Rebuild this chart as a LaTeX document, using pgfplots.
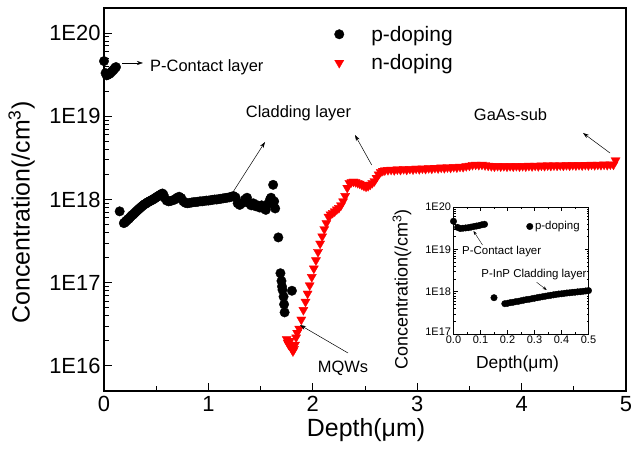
\documentclass[border=0pt]{standalone}
\usepackage{pgfplots}
\pgfplotsset{compat=1.18}
\usepackage{pgfplotstable}
\usepackage{fontspec}
\setmainfont{Liberation Sans}
\usetikzlibrary{arrows.meta}
\pgfplotsset{mylegimg/.style={legend image code/.code={\draw[##1] plot coordinates {(0bp,0bp)}; \path[draw=none,fill=none] (-5bp,0bp) (30bp,0bp);}}}

\pgfplotstableread{
x y
0.000 4.6e19
0.015 3.3e19
0.025 3.1e19
0.035 3.15e19
0.045 3.2e19
0.055 3.25e19
0.065 3.35e19
0.075 3.45e19
0.085 3.55e19
0.095 3.65e19
0.105 3.8e19
0.115 3.9e19
0.150 7.2e17
0.190 5.2e17
0.200 5.3e17
0.210 5.5e17
0.220 5.6e17
0.230 5.8e17
0.240 5.9e17
0.250 6.1e17
0.260 6.3e17
0.270 6.5e17
0.280 6.6e17
0.290 6.8e17
0.300 7.0e17
0.310 7.2e17
0.320 7.4e17
0.330 7.6e17
0.340 7.8e17
0.350 8.0e17
0.360 8.2e17
0.370 8.4e17
0.380 8.6e17
0.390 8.8e17
0.400 8.9e17
0.410 9.1e17
0.420 9.3e17
0.430 9.4e17
0.440 9.6e17
0.450 9.7e17
0.460 9.9e17
0.470 1.0e18
0.480 1.02e18
0.490 1.04e18
0.500 1.06e18
0.510 1.08e18
0.520 1.10e18
0.530 1.12e18
0.540 1.14e18
0.550 1.16e18
0.560 1.18e18
0.570 1.14e18
0.580 1.05e18
0.600 9.7e17
0.620 9.5e17
0.640 9.6e17
0.660 9.8e17
0.680 1.0e18
0.700 1.05e18
0.720 1.08e18
0.740 1.04e18
0.760 9.5e17
0.780 9.1e17
0.800 9.0e17
0.820 9.1e17
0.840 9.2e17
0.860 9.3e17
0.880 9.3e17
0.900 9.4e17
0.920 9.5e17
0.940 9.5e17
0.960 9.6e17
0.980 9.7e17
1.000 9.7e17
1.020 9.8e17
1.040 9.9e17
1.060 1.0e18
1.080 1.0e18
1.100 1.01e18
1.120 1.02e18
1.140 1.03e18
1.160 1.04e18
1.180 1.05e18
1.200 1.06e18
1.220 1.08e18
1.240 1.10e18
1.260 1.06e18
1.280 9.0e17
1.300 8.6e17
1.320 9.0e17
1.350 1.0e18
1.370 1.05e18
1.390 9.0e17
1.410 8.5e17
1.430 9.0e17
1.450 8.3e17
1.470 8.5e17
1.490 8.0e17
1.510 8.5e17
1.530 7.8e17
1.550 7.5e17
1.570 8.8e17
1.590 1.0e18
1.600 1.05e18
1.620 1.5e18
1.630 9.5e17
1.640 7.8e17
1.670 3.5e17
1.690 1.3e17
1.700 1.05e17
1.705 9.0e16
1.710 8.2e16
1.720 6.8e16
1.725 5.5e16
1.730 4.4e16
1.800 8.0e16
}\pdata

\pgfplotstableread{
x y
1.75 2.1e16
1.76 1.9e16
1.77 1.8e16
1.78 2.0e16
1.79 1.7e16
1.80 1.6e16
1.81 1.5e16
1.82 1.6e16
1.83 1.8e16
1.84 2.2e16
1.85 2.5e16
1.87 2.8e16
1.89 3.6e16
1.91 4.7e16
1.93 5.9e16
1.95 7.4e16
1.97 9.3e16
1.99 1.17e17
2.01 1.48e17
2.03 1.86e17
2.05 2.34e17
2.07 2.95e17
2.09 3.6e17
2.11 4.4e17
2.13 5.2e17
2.15 6.2e17
2.17 6.6e17
2.19 6.9e17
2.21 7.2e17
2.23 7.6e17
2.25 7.9e17
2.27 8.5e17
2.29 9.5e17
2.31 1.1e18
2.33 1.38e18
2.35 1.58e18
2.37 1.62e18
2.39 1.64e18
2.41 1.62e18
2.43 1.58e18
2.45 1.55e18
2.47 1.50e18
2.49 1.46e18
2.51 1.43e18
2.53 1.45e18
2.55 1.51e18
2.57 1.58e18
2.59 1.66e18
2.61 1.82e18
2.63 2.0e18
2.65 2.14e18
2.67 2.21e18
2.69 2.24e18
2.72 2.26e18
2.75 2.28e18
2.78 2.25e18
2.81 2.30e18
2.84 2.27e18
2.87 2.32e18
2.90 2.28e18
2.93 2.33e18
2.96 2.30e18
2.99 2.35e18
3.02 2.32e18
3.05 2.36e18
3.08 2.33e18
3.11 2.38e18
3.14 2.35e18
3.17 2.40e18
3.20 2.37e18
3.23 2.42e18
3.26 2.39e18
3.29 2.44e18
3.32 2.41e18
3.35 2.46e18
3.38 2.43e18
3.41 2.48e18
3.44 2.46e18
3.47 2.52e18
3.50 2.55e18
3.53 2.60e18
3.56 2.62e18
3.59 2.60e18
3.62 2.62e18
3.65 2.58e18
3.68 2.55e18
3.71 2.52e18
3.74 2.50e18
3.77 2.53e18
3.80 2.50e18
3.83 2.52e18
3.86 2.49e18
3.89 2.52e18
3.92 2.50e18
3.95 2.53e18
3.98 2.50e18
4.01 2.53e18
4.04 2.50e18
4.07 2.54e18
4.10 2.51e18
4.13 2.55e18
4.16 2.52e18
4.19 2.56e18
4.22 2.53e18
4.25 2.57e18
4.28 2.54e18
4.31 2.57e18
4.34 2.55e18
4.37 2.58e18
4.40 2.55e18
4.43 2.59e18
4.46 2.56e18
4.49 2.60e18
4.52 2.57e18
4.55 2.60e18
4.58 2.57e18
4.61 2.61e18
4.64 2.58e18
4.67 2.62e18
4.70 2.59e18
4.73 2.62e18
4.76 2.60e18
4.79 2.63e18
4.82 2.60e18
4.85 2.64e18
4.88 2.62e18
4.90 2.95e18
}\ndata

\begin{document}
\begin{tikzpicture}
\path[use as bounding box] (0,0) rectangle (631bp,462bp);
\begin{axis}[
  at={(104bp,71bp)}, anchor=south west,
  scale only axis, width=522bp, height=383bp,
  xmin=0, xmax=5, ymin=5e15, ymax=2e20, ymode=log,
  xtick={0,1,2,3,4,5}, xticklabels={0,1,2,3,4,5}, minor x tick num=1,
  ytick={1e16,1e17,1e18,1e19,1e20}, yticklabels={1E16,1E17,1E18,1E19,1E20},
  xtick pos=bottom, ytick pos=left, tick align=inside,
  major tick length=8bp, minor tick length=5bp,
  every tick/.style={black, line width=0.9pt},
  axis line style={line width=1.1pt},
  tick label style={font=\fontsize{22}{25}\selectfont},
  xticklabel style={yshift=-2bp},
  xlabel={Depth(μm)}, ylabel={Concentration(/cm\textsuperscript{3})},
  label style={font=\fontsize{25}{30}\selectfont},
  xlabel style={at={(axis description cs:0.502,-0.102)}, anchor=center},
  ylabel style={at={(axis description cs:-0.158,0.466)}, anchor=center},
  legend style={draw=none, fill=none, at={(axis description cs:0.435,0.964)}, anchor=north west,
    font=\fontsize{21}{24}\selectfont, row sep=8pt},
  legend cell align=left,
]
\addplot[only marks, mark=*, mark size=4.8pt, mark options={black, fill=black, line width=0.3pt}, mylegimg] table[x=x,y=y] {\pdata};
\addlegendentry{p-doping}
\addplot[only marks, mark=triangle*, mark size=5.3pt, mark options={red, fill=red, rotate=180, line width=0.3pt}, mylegimg] table[x=x,y=y] {\ndata};
\addlegendentry{n-doping}
\end{axis}

\begin{axis}[
  at={(453.5bp,128bp)}, anchor=south west,
  scale only axis, width=135bp, height=127bp,
  xmin=0, xmax=0.5, ymin=1e17, ymax=1e20, ymode=log,
  xtick={0,0.1,0.2,0.3,0.4,0.5}, xticklabels={0.0,0.1,0.2,0.3,0.4,0.5}, minor x tick num=1,
  ytick={1e17,1e18,1e19,1e20}, yticklabels={\raisebox{4bp}{1E17},1E18,1E19,1E20},
  tick align=inside, major tick length=4bp, minor tick length=2bp,
  every tick/.style={black, line width=0.5pt},
  axis line style={line width=0.6pt},
  tick label style={font=\fontsize{11}{12}\selectfont},
  xticklabel style={yshift=1.5bp}, yticklabel style={xshift=1bp},
  xlabel={Depth(μm)}, ylabel={Concentration(/cm\textsuperscript{3})},
  xlabel style={font=\fontsize{17.5}{20}\selectfont, at={(axis description cs:0.474,-0.236)}, anchor=center},
  ylabel style={font=\fontsize{18}{20}\selectfont, at={(axis description cs:-0.381,0.354)}, anchor=center},
  legend style={draw=none, fill=none, at={(axis description cs:0.517,0.918)}, anchor=north west,
    font=\fontsize{11.5}{13}\selectfont},
  legend cell align=left,
]
\addplot[only marks, mark=*, mark size=3.3pt, mark options={black, fill=black, line width=0.3pt}, restrict x to domain=0:0.5] table[x=x,y=y] {\pdata};
\addlegendentry{p-doping}
\end{axis}

\tikzset{ann/.style={font=\fontsize{16.5}{20}\selectfont, inner sep=0pt},
         annsm/.style={font=\fontsize{11.5}{13}\selectfont, inner sep=0pt},
         arr/.style={-{Stealth[length=6bp,width=4bp]}, line width=0.5bp}}
\node[ann, anchor=west] at (150bp,395bp) {P-Contact layer};
\node[ann] at (298.5bp,349bp) {Cladding layer};
\node[ann] at (510.5bp,347bp) {GaAs-sub};
\node[ann] at (343bp,94bp) {MQWs};
\draw[arr] (122bp,399bp) -- (143bp,399bp);
\draw[arr] (233bp,270bp) -- (265bp,320bp);
\draw[arr] (371.7bp,297bp) -- (355bp,327bp);
\draw[arr] (610bp,309bp) -- (583bp,329bp);
\draw[arr] (348bp,109bp) -- (300bp,137bp);
\node[annsm] at (501.7bp,210.3bp) {P-Contact layer};
\draw[-{Stealth[length=4bp,width=3bp]}, line width=0.4bp] (482.5bp,217bp) -- (473.5bp,231bp);
\node[annsm] at (534bp,187bp) {P-InP Cladding layer};
\draw[-{Stealth[length=4bp,width=3bp]}, line width=0.4bp] (536.7bp,179.7bp) -- (546.7bp,172bp);
\end{tikzpicture}
\end{document}
